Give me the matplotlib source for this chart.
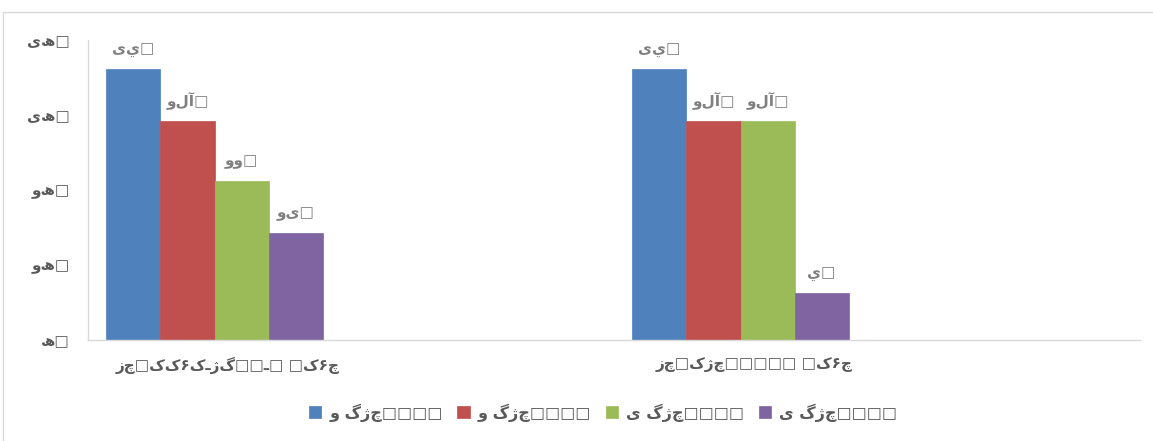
import matplotlib
matplotlib.use("Agg")
import matplotlib.pyplot as plt
from matplotlib.patches import Rectangle
import numpy as np

plt.rcParams["font.family"] = ["DejaVu Sans", "Noto Sans"]

# text as it appears in the reference (mis-rendered glyphs kept as-is)
categories = ["زچ□کک۶کـژگ□□ـ□ □ک۶چ", "زچ□کژچ□□□□□ □ک۶چ"]
series_names = ["و گژچ□□□□", "و گژچ□□□□", "ی گژچ□□□□", "ی گژچ□□□□"]
series_values = [
    [3.61, 3.61],
    [2.92, 2.92],
    [2.12, 2.92],
    [1.43, 0.63],
]
value_labels = [
    ["یي□", "یي□"],
    ["ولآ□", "ولآ□"],
    ["وو□", "ولآ□"],
    ["وى□", "ي□"],
]
y_ticks = [0, 1, 2, 3, 4]
y_tick_labels = ["ھ□", "وھ□", "وھ□", "یھ□", "یھ□"]

colors = ["#4f81bd", "#c0504d", "#9bbb59", "#8064a2"]
text_color = "#595959"
label_color = "#7f7f7f"

fig = plt.figure(figsize=(11.53, 4.41), dpi=100)
fig.patches.append(Rectangle((3 / 1153, -0.05), 1.1, 1 - 12 / 441 + 0.05,
                             transform=fig.transFigure, fill=False,
                             edgecolor="#d9d9d9", linewidth=1.0))

ax = fig.add_axes([88 / 1153, 101 / 441, 1052 / 1153, 300 / 441])

centers = np.array([0.2405, 1.2405])
width = 0.1027
for k, (vals, labs, col) in enumerate(zip(series_values, value_labels, colors)):
    xs = centers + (k - 1.5) * width
    ax.bar(xs, vals, width=width, color=col, edgecolor=col, linewidth=0.5,
           label=series_names[k], zorder=2)
    for x, v, t in zip(xs, vals, labs):
        ax.annotate(t, (x, v), xytext=(0, 14), textcoords="offset points",
                    ha="center", va="center", fontsize=11, fontweight="bold",
                    color=label_color)

ax.set_xlim(0, 2)
ax.set_ylim(0, 4)
ax.set_yticks(y_ticks)
ax.set_yticklabels(y_tick_labels, fontsize=11, fontweight="bold", color=text_color)
ax.set_xticks(centers + 0.025)
ax.set_xticklabels(categories, fontsize=11, fontweight="bold", color=text_color)
ax.tick_params(axis="both", length=0)
ax.tick_params(axis="y", pad=13)
ax.tick_params(axis="x", pad=12)

for side in ["top", "right"]:
    ax.spines[side].set_visible(False)
for side in ["left", "bottom"]:
    ax.spines[side].set_color("#d9d9d9")
    ax.spines[side].set_linewidth(1.0)

handles, labels = ax.get_legend_handles_labels()
fig.legend(handles, labels, loc="center", bbox_to_anchor=(0.523, 0.064), ncol=4,
           frameon=False, handlelength=0.8, handleheight=0.8,
           handletextpad=0.5, columnspacing=0.9,
           prop={"weight": "bold", "size": 11.5})
for t in fig.legends[0].get_texts():
    t.set_color(text_color)

fig.savefig("out.png", dpi=100)
